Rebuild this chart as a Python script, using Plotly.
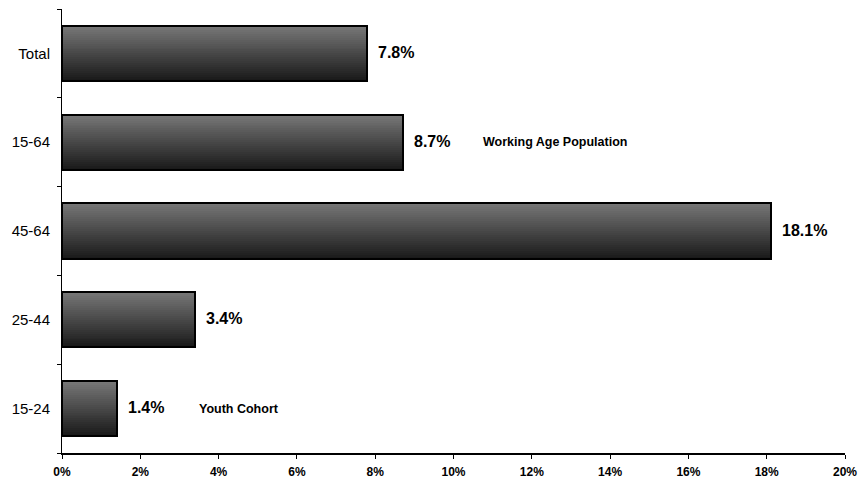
import plotly.graph_objects as go

# Categories listed bottom-to-top
groups = ["15-24", "25-44", "45-64", "15-64", "Total"]
rates = [1.4, 3.4, 18.1, 8.7, 7.8]

# Side notes placed next to two of the bars
note_texts = ["Youth Cohort", "Working Age Population"]
note_groups = ["15-24", "15-64"]
note_x = [3.45, 10.7]

x_ticks = [0, 2, 4, 6, 8, 10, 12, 14, 16, 18, 20]

BAR_WIDTH = 0.62
N_STRIPS = 28
TOP_SHADE = 0x76
BOTTOM_SHADE = 0x1a

fig = go.Figure()

# Vertical gradient built from thin stacked strips (bottom dark -> top light)
strip_w = BAR_WIDTH / N_STRIPS
for i in range(N_STRIPS):
    t = i / (N_STRIPS - 1)
    shade = int(round(BOTTOM_SHADE + (TOP_SHADE - BOTTOM_SHADE) * t))
    color = f"rgb({shade},{shade},{shade})"
    fig.add_trace(go.Bar(
        x=rates, y=groups, orientation="h",
        width=strip_w * 1.15, offset=-BAR_WIDTH / 2 + i * strip_w,
        marker=dict(color=color, line=dict(width=0)),
        hoverinfo="skip", showlegend=False,
    ))

# Black outline around each bar
fig.add_trace(go.Bar(
    x=rates, y=groups, orientation="h",
    width=BAR_WIDTH, offset=-BAR_WIDTH / 2,
    marker=dict(color="rgba(0,0,0,0)", line=dict(color="black", width=2)),
    showlegend=False,
))

annotations = []
for g, v in zip(groups, rates):
    annotations.append(dict(
        x=v, y=g, xref="x", yref="y", text=f"<b>{v:.1f}%</b>",
        showarrow=False, xanchor="left", xshift=9, yshift=1,
        font=dict(family="Liberation Sans, Arial, sans-serif", size=16, color="black"),
    ))
for txt, g, xv in zip(note_texts, note_groups, note_x):
    annotations.append(dict(
        x=xv, y=g, xref="x", yref="y", text=f"<b>{txt}</b>",
        showarrow=False, xanchor="left", yshift=0,
        font=dict(family="Liberation Sans, Arial, sans-serif", size=12.5, color="black"),
    ))

fig.update_layout(
    width=858, height=478,
    margin=dict(l=62, r=13, t=9, b=25),
    paper_bgcolor="white", plot_bgcolor="white",
    barmode="overlay", bargap=0,
    annotations=annotations,
    font=dict(family="Liberation Sans, Arial, sans-serif", color="black"),
    xaxis=dict(
        range=[0, 20], tickvals=x_ticks,
        ticktext=[f"<b>{t}%</b>" for t in x_ticks],
        showgrid=False, zeroline=False, automargin=False,
        showline=True, linecolor="black", linewidth=1.5,
        ticks="outside", ticklen=4, tickcolor="black",
        ticklabelstandoff=3,
        tickfont=dict(size=12),
    ),
    yaxis=dict(
        categoryorder="array", categoryarray=groups,
        range=[-0.5, 4.5], automargin=False,
        showgrid=False, zeroline=False,
        showline=True, linecolor="black", linewidth=1,
        ticks="outside", ticklen=4, tickcolor="black",
        tickson="boundaries", ticklabelstandoff=8,
        tickfont=dict(size=15),
    ),
)

fig.write_html("out.html")
